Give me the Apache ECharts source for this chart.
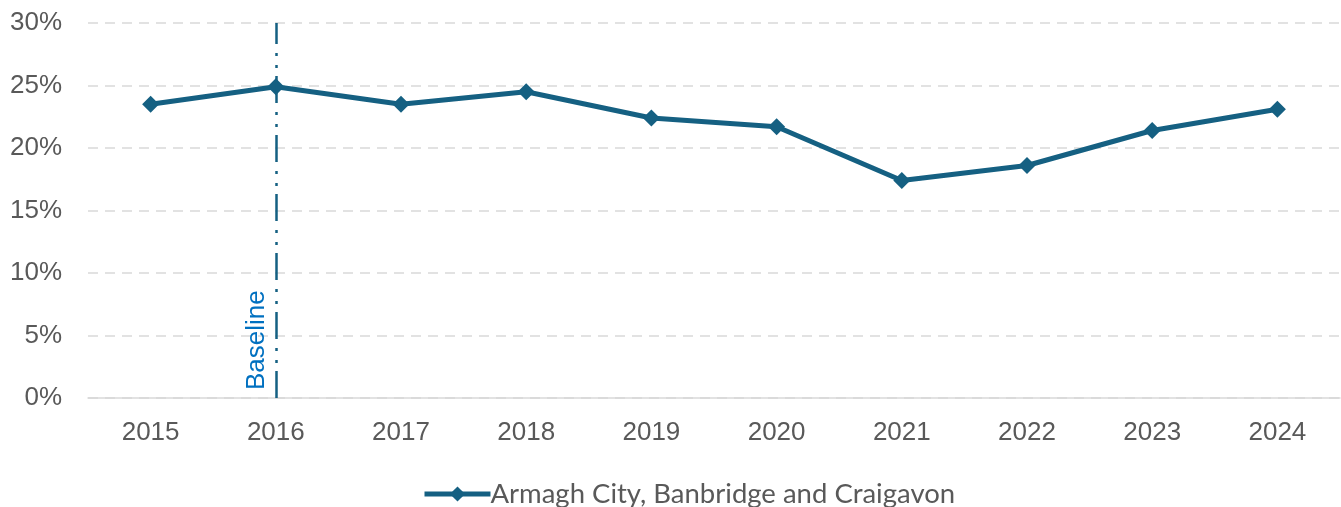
<!DOCTYPE html>
<html><head><meta charset="utf-8">
<script src="https://cdn.jsdelivr.net/npm/echarts@6/dist/echarts.min.js"></script>
<style>html,body{margin:0;padding:0;background:#fff}#c{width:1341px;height:507px}</style>
</head><body><div id="c"></div>
<script>
const categories = ['2015','2016','2017','2018','2019','2020','2021','2022','2023','2024'];
const seriesName = 'Armagh City, Banbridge and Craigavon';
const values = [23.5, 24.9, 23.5, 24.5, 22.4, 21.7, 17.4, 18.6, 21.4, 23.1];
const baselineYear = '2016';
const baselineLabel = 'Baseline';
const yTicks = [0, 5, 10, 15, 20, 25, 30];

const chart = echarts.init(document.getElementById('c'));
chart.setOption({
  animation: false,
  grid: {left: 88, right: 1, top: 23, bottom: 109},
  xAxis: {
    type: 'category', data: categories, boundaryGap: true,
    axisLine: {lineStyle: {color: '#d9d9d9', width: 1.5}},
    axisTick: {show: false},
    axisLabel: {color: '#595959', fontSize: 26, fontFamily: 'Liberation Sans', margin: 22}
  },
  yAxis: {
    type: 'value', min: yTicks[0], max: yTicks[yTicks.length-1], interval: 5,
    axisLine: {show: false}, axisTick: {show: false},
    axisLabel: {color: '#595959', fontSize: 26, fontFamily: 'Liberation Sans', margin: 26, formatter: v => v + '%'},
    splitLine: {lineStyle: {color: '#d9d9d9', type: [10, 7], width: 1.5}}
  },
  legend: {
    bottom: -6, left: 417, itemWidth: 66, itemHeight: 19, itemGap: 0,
    lineStyle: {width: 5},
    textStyle: {color: '#595959', fontSize: 27.5, fontFamily: 'Lato', padding: [0,0,0,-5]},
    data: [seriesName]
  },
  series: [{
    name: seriesName, type: 'line', data: values,
    lineStyle: {color: '#156082', width: 5},
    itemStyle: {color: '#156082'},
    symbol: 'diamond', symbolSize: 17,
    markLine: {
      silent: true, symbol: ['none', 'none'],
      lineStyle: {color: '#156082', width: 2.5, type: [27, 8, 3, 9, 3, 9]},
      label: {show: true, formatter: baselineLabel, position: 'insideStartTop', color: '#0070C0', fontSize: 26, fontFamily: 'Liberation Sans', distance: [8, 6]},
      data: [[{coord: [baselineYear, yTicks[0]]}, {coord: [baselineYear, yTicks[yTicks.length-1]]}]]
    }
  }]
});
</script></body></html>
